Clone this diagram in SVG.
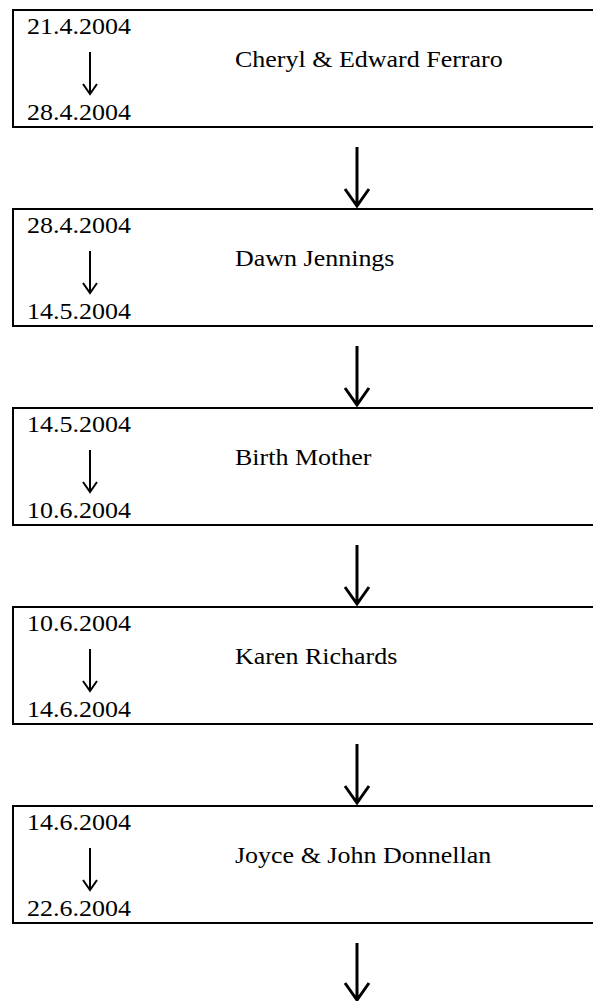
<svg xmlns="http://www.w3.org/2000/svg" width="593" height="1001" viewBox="0 0 593 1001">
<style>
.box{fill:#fff;stroke:#000;stroke-width:2}
.t{font-family:"Liberation Serif","Times New Roman",serif;font-size:23px;fill:#000}
.sa{fill:none;stroke:#000;stroke-width:2}
.ba{fill:none;stroke:#000;stroke-width:3}
</style>
<rect width="593" height="1001" fill="#fff"/>
<g id="node1">
<rect class="box" x="13" y="10" width="600" height="117"/>
<text class="t" transform="translate(27,34) scale(1.13,1)">21.4.2004</text>
<path class="sa" d="M90,52V93M83,84L90,94L97,84"/>
<text class="t" transform="translate(27,120) scale(1.13,1)">28.4.2004</text>
<text class="t" transform="translate(235,66.5) scale(1.13,1)">Cheryl &amp; Edward Ferraro</text>
</g>
<g id="node2">
<rect class="box" x="13" y="209" width="600" height="117"/>
<text class="t" transform="translate(27,233) scale(1.13,1)">28.4.2004</text>
<path class="sa" d="M90,251V292M83,283L90,293L97,283"/>
<text class="t" transform="translate(27,319) scale(1.13,1)">14.5.2004</text>
<text class="t" transform="translate(235,265.5) scale(1.13,1)">Dawn Jennings</text>
</g>
<g id="node3">
<rect class="box" x="13" y="408" width="600" height="117"/>
<text class="t" transform="translate(27,432) scale(1.13,1)">14.5.2004</text>
<path class="sa" d="M90,450V491M83,482L90,492L97,482"/>
<text class="t" transform="translate(27,518) scale(1.13,1)">10.6.2004</text>
<text class="t" transform="translate(235,464.5) scale(1.13,1)">Birth Mother</text>
</g>
<g id="node4">
<rect class="box" x="13" y="607" width="600" height="117"/>
<text class="t" transform="translate(27,631) scale(1.13,1)">10.6.2004</text>
<path class="sa" d="M90,649V690M83,681L90,691L97,681"/>
<text class="t" transform="translate(27,717) scale(1.13,1)">14.6.2004</text>
<text class="t" transform="translate(235,663.5) scale(1.13,1)">Karen Richards</text>
</g>
<g id="node5">
<rect class="box" x="13" y="806" width="600" height="117"/>
<text class="t" transform="translate(27,830) scale(1.13,1)">14.6.2004</text>
<path class="sa" d="M90,848V889M83,880L90,890L97,880"/>
<text class="t" transform="translate(27,916) scale(1.13,1)">22.6.2004</text>
<text class="t" transform="translate(235,862.5) scale(1.13,1)">Joyce &amp; John Donnellan</text>
</g>
<g id="connectors">
<path class="ba" d="M357,147V205M345,189L357,206L369,189"/>
<path class="ba" d="M357,346V404M345,388L357,405L369,388"/>
<path class="ba" d="M357,545V603M345,587L357,604L369,587"/>
<path class="ba" d="M357,744V802M345,786L357,803L369,786"/>
<path class="ba" d="M357,943V999M345,983L357,1000L369,983"/>
</g>
</svg>
